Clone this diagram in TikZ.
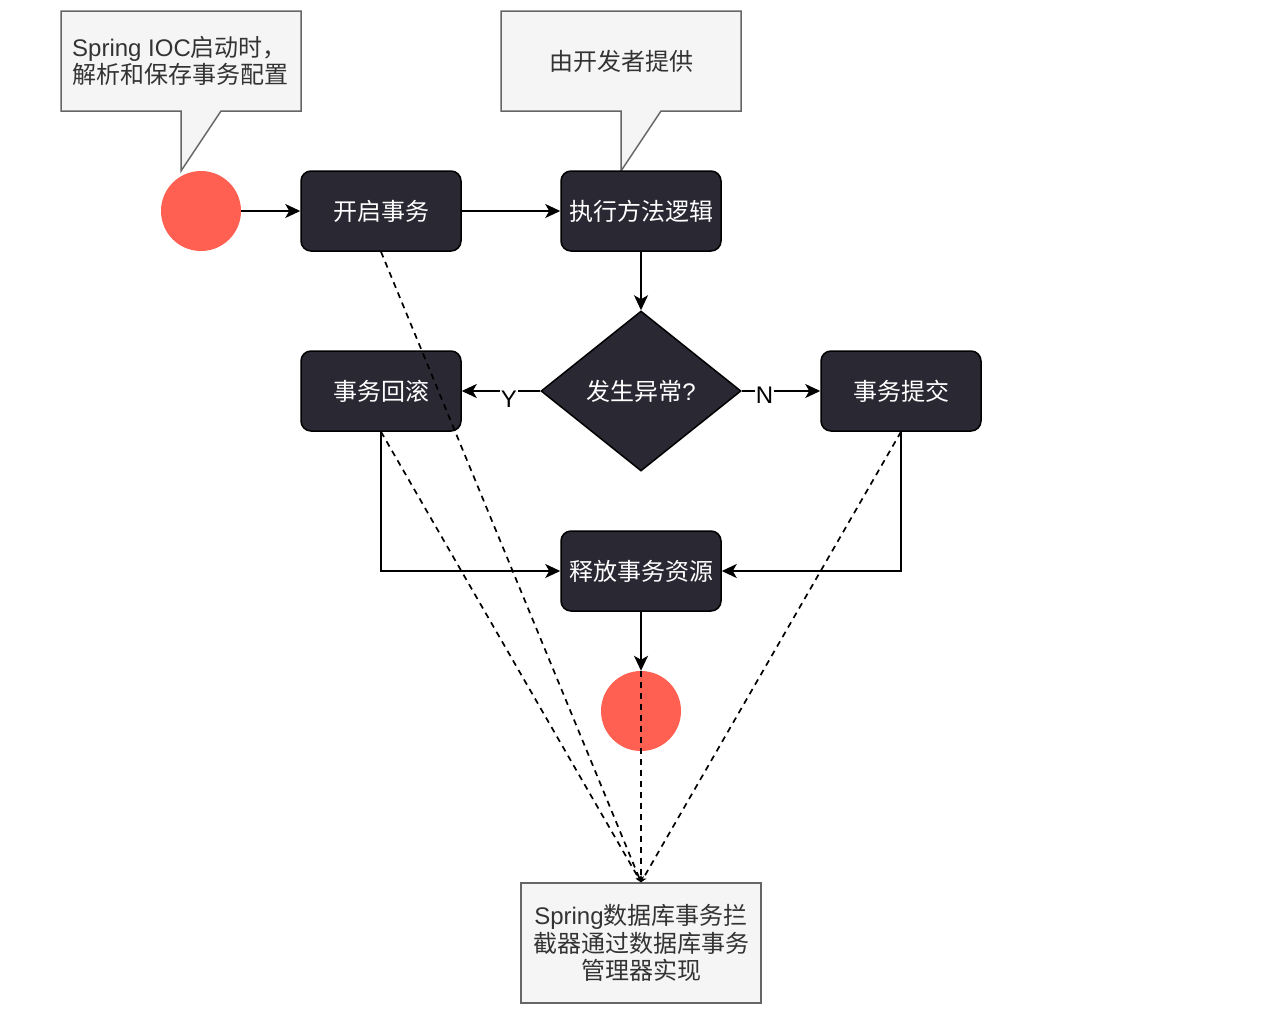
\documentclass[tikz,border=0pt]{standalone}
\usepackage{fontspec}
\setmainfont{Liberation Sans}
\newfontfamily\cjk{Noto Sans CJK SC}
\usetikzlibrary{shapes.geometric,arrows.meta}
\definecolor{dk}{HTML}{2A2833}
\definecolor{rd}{HTML}{FF6052}
\definecolor{cf}{HTML}{F5F5F5}
\definecolor{cs}{HTML}{666666}
\definecolor{tx}{HTML}{333333}
\newcommand\myfs{\fontsize{24}{27.5}\selectfont}
\begin{document}
\begin{tikzpicture}[x=1pt,y=-1pt,
  box/.style={draw=black, line width=1.5pt, fill=dk, rounded corners=10pt,
    minimum width=160pt, minimum height=80pt, text=white, font=\myfs\cjk, inner sep=0pt},
  dot/.style={circle, fill=rd, minimum size=80pt, inner sep=0pt},
  flow/.style={line width=1.8pt, -{Stealth[length=15pt,width=14pt,inset=4pt]}},
  dsh/.style={line width=1.7pt, dash pattern=on 6pt off 5pt, -{Stealth[length=6pt,width=6pt]}},
  callout/.style={draw=cs, line width=1.5pt, fill=cf},
  lbl/.style={fill=white, inner sep=1pt, font=\myfs, text=black}
]
\useasboundingbox (0,0) rectangle (1282,1020);

% callouts
\draw[callout] (61,11) -- (301,11) -- (301,111) -- (221,111) -- (181,171) -- (181,111) -- (61,111) -- cycle;
\node[anchor=west, align=left, font=\myfs, text=tx, inner sep=0pt] (c1) at (72,61)
  {Spring IOC{\cjk 启动时，}\\{\cjk 解析和保存事务配置}};
\draw[callout] (501,11) -- (741,11) -- (741,111) -- (661,111) -- (621,171) -- (621,111) -- (501,111) -- cycle;
\node[font=\myfs\cjk, text=tx, inner sep=0pt] (c2) at (621,61) {由开发者提供};

% nodes
\node[dot] (s) at (201,211) {};
\node[box] (open) at (381,211) {开启事务};
\node[box] (exec) at (641,211) {执行方法逻辑};
\node[diamond, draw=black, line width=1.5pt, fill=dk, minimum width=200pt, minimum height=160pt,
      inner sep=0pt, text=white, font=\myfs] (dec) at (641,391) {{\cjk 发生异常}?};
\node[box] (rb) at (381,391) {事务回滚};
\node[box] (cm) at (901,391) {事务提交};
\node[box] (rel) at (641,571) {释放事务资源};
\node[dot] (e) at (641,711) {};
\node[draw=cs, line width=1.5pt, fill=cf, minimum width=240pt, minimum height=120pt,
      align=center, font=\myfs, text=tx, inner sep=0pt] (db) at (641,943)
  {Spring{\cjk 数据库事务拦}\\{\cjk 截器通过数据库事务}\\{\cjk 管理器实现}};

% flow edges
\draw[flow] (s) -- (open);
\draw[flow] (open) -- (exec);
\draw[flow] (exec) -- (dec);
\draw[flow] (dec) -- node[lbl, pos=0.4, yshift=-8pt] {Y} (rb);
\draw[flow] (dec) -- node[lbl, pos=0.29, yshift=-4pt] {N} (cm);
\draw[flow] (rb.south) |- (rel.west);
\draw[flow] (cm.south) |- (rel.east);
\draw[flow] (rel) -- (e);

% dashed connectors
\draw[dsh] (open.south) -- (db.north);
\draw[dsh] (rb.south) -- (db.north);
\draw[dsh] (cm.south) -- (db.north);
\draw[dsh] (e.north) -- (db.north);
\end{tikzpicture}
\end{document}
